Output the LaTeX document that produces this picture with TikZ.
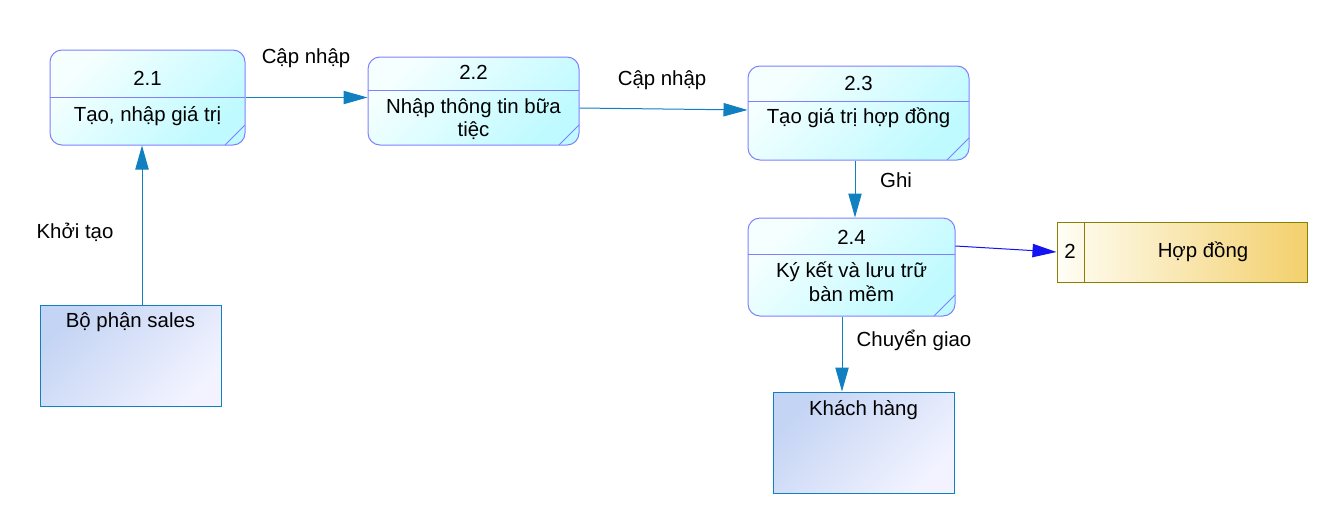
\documentclass[tikz,border=0pt]{standalone}
\usepackage{fontspec}
\setmainfont{Liberation Sans}
\usetikzlibrary{arrows.meta,fit,calc}
\definecolor{procborder}{HTML}{8080FF}
\definecolor{proctop}{HTML}{F6FFFF}
\definecolor{procbot}{HTML}{BEFAFF}
\definecolor{entborder}{HTML}{1080C0}
\definecolor{enttl}{HTML}{C4D4F4}
\definecolor{entbr}{HTML}{F2F3FF}
\definecolor{storeborder}{HTML}{8A8000}
\definecolor{storel}{HTML}{FFFEF6}
\definecolor{storer}{HTML}{F3D06C}
\definecolor{flow}{HTML}{1080C0}
\definecolor{flowb}{HTML}{1414F0}
\begin{document}
\begin{tikzpicture}[x=0.75pt,y=-0.75pt,
  txt/.style={font=\fontsize{15.3}{18}\selectfont, inner sep=0pt, anchor=base},
  procbox/.style={draw=procborder, line width=0.75pt, rounded corners=9pt, inner sep=0pt,
    top color=proctop, bottom color=procbot, shading angle=45},
  entbox/.style={draw=entborder, line width=0.75pt, inner sep=0pt,
    top color=enttl, bottom color=entbr, shading angle=45},
  storebox/.style={draw=storeborder, line width=0.75pt, inner sep=0pt,
    left color=storel, right color=storer},
  procline/.style={draw=procborder, line width=0.75pt},
  storeline/.style={draw=storeborder, line width=0.75pt},
  flowarrow/.style={draw=flow, line width=0.75pt, -{Triangle[length=18pt,width=10pt]}},
  flowarrowb/.style={draw=flowb, line width=0.75pt, -{Triangle[length=18pt,width=10pt]}},
]
\useasboundingbox (0,0) rectangle (1320,511);

% process boxes
\node[procbox, fit={(50,50) (245,145)}] (p21) {};
\draw[procline] (50,97) -- (245,97);
\draw[procline] (225,145) -- (245,125);
\node[txt] (n21) at (147.5,85) {2.1};
\node[txt] (l21) at (147.5,121) {Tạo, nhập giá trị};

\node[procbox, fit={(368,57) (579,145)}] (p22) {};
\draw[procline] (368,90) -- (579,90);
\draw[procline] (559,145) -- (579,125);
\node[txt] (n22) at (473.5,79) {2.2};
\node[txt] (l22a) at (473.5,113) {Nhập thông tin bữa};
\node[txt] (l22b) at (473.5,136) {tiệc};

\node[procbox, fit={(748,66) (969,160)}] (p23) {};
\draw[procline] (748,101) -- (969,101);
\draw[procline] (947,160) -- (969,138);
\node[txt] (n23) at (858.5,90) {2.3};
\node[txt] (l23) at (858.5,123) {Tạo giá trị hợp đồng};

\node[procbox, fit={(748,218) (955,316)}] (p24) {};
\draw[procline] (748,254) -- (955,254);
\draw[procline] (934,316) -- (955,295);
\node[txt] (n24) at (851.5,244) {2.4};
\node[txt] (l24a) at (851.5,277) {Ký kết và lưu trữ};
\node[txt] (l24b) at (851.5,301) {bàn mềm};

% data store
\node[storebox, fit={(1057,222) (1307,282)}] (st) {};
\draw[storeline] (1084,222) -- (1084,282);
\node[txt] (stn) at (1070,258) {2};
\node[txt] (stl) at (1203,257) {Hợp đồng};

% external entities
\node[entbox, fit={(40,305) (221,406)}] (sales) {};
\node[txt] (salesl) at (130.5,327) {Bộ phận sales};
\node[entbox, fit={(773,392) (954,493)}] (kh) {};
\node[txt] (khl) at (863.5,415) {Khách hàng};

% connector end points
\coordinate (a22) at ($(p22.east)+(0,7)$);
\coordinate (a23) at ($(p23.west)+(0,-3)$);
\coordinate (g23) at ($(p23.south)+(-3.5,0)$);
\coordinate (h24) at ($(p24.east)+(0,-21)$);
\coordinate (c24) at ($(p24.south)+(-9.5,0)$);
\coordinate (s1) at ($(sales.north)+(11.5,0)$);

% flows
\draw[flowarrow] (p21.east) -- (p21.east -| p22.west);
\node[txt] (f1) at (306,63) {Cập nhập};

\draw[flowarrow] (a22) -- (a23);
\node[txt] (f2) at (662,85) {Cập nhập};

\draw[flowarrow] (g23) -- (g23 |- p24.north);
\node[txt] (f3) at (896,187) {Ghi};

\draw[flowarrowb] (h24) -- (st.west);

\draw[flowarrow] (c24) -- (c24 |- kh.north);
\node[txt] (f5) at (914,346) {Chuyển giao};

\draw[flowarrow] (s1) -- (s1 |- p21.south);
\node[txt] (f6) at (75,238) {Khởi tạo};
\end{tikzpicture}
\end{document}
